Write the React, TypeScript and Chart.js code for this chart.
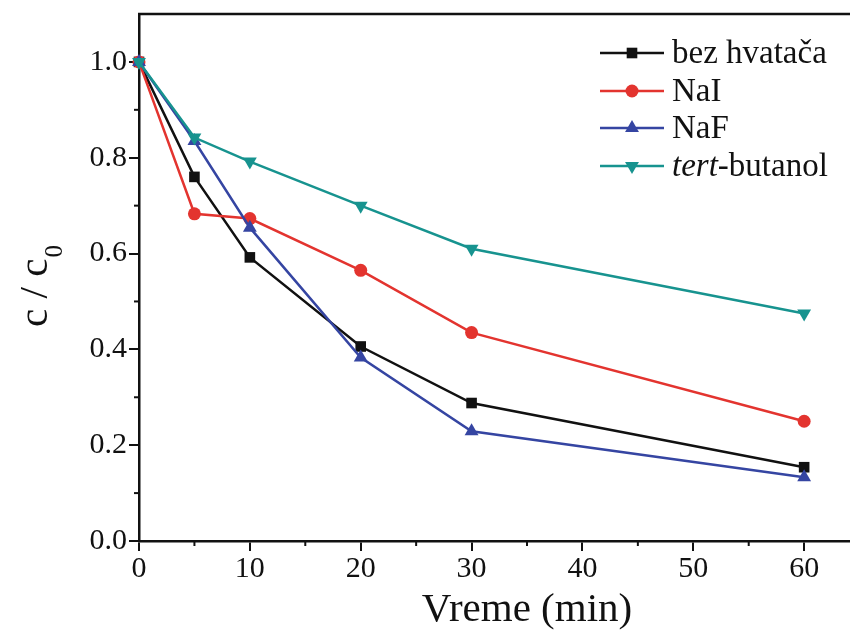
import React, { useEffect, useRef } from "react";
import { Chart, registerables } from "chart.js";

Chart.register(...registerables);

const times = [0, 5, 10, 20, 30, 60];
const seriesNames = ["bez hvatača", "NaI", "NaF", "tert-butanol"];
const bezHvataca = [1.0, 0.76, 0.592, 0.406, 0.288, 0.154];
const naI = [1.0, 0.683, 0.673, 0.565, 0.435, 0.25];
const naF = [1.0, 0.835, 0.654, 0.383, 0.229, 0.133];
const tertButanol = [1.0, 0.842, 0.792, 0.70, 0.61, 0.475];
const xTicks = [0, 10, 20, 30, 40, 50, 60];
const yTicks = [0, 0.2, 0.4, 0.6, 0.8, 1.0];

const colors = ["#111111", "#e3342f", "#3545a2", "#17938f"];
const shapes = ["rect", "circle", "triangle", "triangle"];
const rotations = [0, 0, 0, 180];
const radii = [7.5, 6.5, 8, 8];

const SERIF = "'Liberation Serif', 'Times New Roman', serif";

const extrasPlugin = {
  id: "extras",
  afterDraw(chart: any) {
    const ctx = chart.ctx;
    const area = chart.chartArea;
    const xs = chart.scales.x;
    const ys = chart.scales.y;
    ctx.save();
    // top frame line
    ctx.strokeStyle = "#111";
    ctx.lineWidth = 2.5;
    ctx.beginPath();
    ctx.moveTo(area.left - 1, area.top);
    ctx.lineTo(area.right + 5, area.top);
    ctx.stroke();
    // minor ticks
    ctx.lineWidth = 2;
    for (let v = 5; v < 70; v += 10) {
      const px = xs.getPixelForValue(v);
      ctx.beginPath();
      ctx.moveTo(px, area.bottom);
      ctx.lineTo(px, area.bottom + 5);
      ctx.stroke();
    }
    for (let i = 0; i < yTicks.length - 1; i++) {
      const v = (yTicks[i] + yTicks[i + 1]) / 2;
      const py = ys.getPixelForValue(v);
      ctx.beginPath();
      ctx.moveTo(area.left, py);
      ctx.lineTo(area.left - 5, py);
      ctx.stroke();
    }
    // y axis title with subscript
    ctx.fillStyle = "#111";
    ctx.translate(47, 286);
    ctx.rotate(-Math.PI / 2);
    ctx.textBaseline = "alphabetic";
    ctx.textAlign = "left";
    const mainFont = `41px ${SERIF}`;
    const subFont = `25px ${SERIF}`;
    ctx.font = mainFont;
    const mainText = "c / c";
    const w1 = ctx.measureText(mainText).width;
    ctx.font = subFont;
    const w2 = ctx.measureText("0").width;
    const start = -(w1 + w2 + 1) / 2;
    ctx.font = mainFont;
    ctx.fillText(mainText, start, 0);
    ctx.font = subFont;
    ctx.fillText("0", start + w1 + 1, 15);
    ctx.restore();

    // legend
    ctx.save();
    const rowY = [53, 91, 128, 166];
    for (let i = 0; i < seriesNames.length; i++) {
      const y = rowY[i];
      ctx.strokeStyle = colors[i];
      ctx.lineWidth = 2.5;
      ctx.beginPath();
      ctx.moveTo(600, y);
      ctx.lineTo(664, y);
      ctx.stroke();
      ctx.fillStyle = colors[i];
      const r = radii[i];
      if (shapes[i] === "rect") {
        const s = r * Math.SQRT1_2;
        ctx.fillRect(632 - s, y - s, 2 * s, 2 * s);
      } else if (shapes[i] === "circle") {
        ctx.beginPath();
        ctx.arc(632, y, r, 0, Math.PI * 2);
        ctx.fill();
      } else {
        const dir = rotations[i] === 180 ? -1 : 1;
        const h = r * 1.5;
        const half = r * Math.cos(Math.PI / 6);
        ctx.beginPath();
        ctx.moveTo(632, y - dir * r);
        ctx.lineTo(632 - half, y + dir * (h - r));
        ctx.lineTo(632 + half, y + dir * (h - r));
        ctx.closePath();
        ctx.fill();
      }
      ctx.fillStyle = "#111";
      ctx.textBaseline = "middle";
      ctx.textAlign = "left";
      const name = seriesNames[i];
      let x = 672;
      const ly = y + 1;
      if (name.startsWith("tert")) {
        ctx.font = `italic 33px ${SERIF}`;
        ctx.fillText("tert", x, ly);
        x += ctx.measureText("tert").width;
        ctx.font = `33px ${SERIF}`;
        ctx.fillText(name.slice(4), x, ly);
      } else {
        ctx.font = `33px ${SERIF}`;
        ctx.fillText(name, x, ly);
      }
    }
    ctx.restore();
  },
};

export default function App() {
  const ref = useRef<HTMLCanvasElement | null>(null);
  useEffect(() => {
    if (!ref.current) return;
    const all = [bezHvataca, naI, naF, tertButanol];
    const chart = new Chart(ref.current, {
      type: "line",
      data: {
        datasets: all.map((vals, i) => ({
          label: seriesNames[i],
          data: times.map((t, j) => ({ x: t, y: vals[j] })),
          borderColor: colors[i],
          backgroundColor: colors[i],
          borderWidth: 2.5,
          pointStyle: shapes[i] as any,
          pointRotation: rotations[i],
          pointRadius: radii[i],
          pointBorderWidth: 0,
          pointHoverRadius: radii[i],
          tension: 0,
          clip: false as any,
          order: 4 - i,
        })),
      },
      options: {
        animation: false,
        responsive: false,
        devicePixelRatio: 1,
        layout: { padding: { top: 13, right: 0, left: 0, bottom: 0 } },
        plugins: { legend: { display: false }, tooltip: { enabled: false } },
        scales: {
          x: {
            type: "linear",
            min: 0,
            max: 70,
            afterFit: (s: any) => {
              s.height = 97;
            },
            afterBuildTicks: (s: any) => {
              s.ticks = xTicks.map((v) => ({ value: v }));
            },
            ticks: {
              font: { family: SERIF, size: 30, lineHeight: 1 },
              color: "#111",
              padding: 3,
              maxRotation: 0,
              autoSkip: false,
            },
            grid: {
              drawOnChartArea: false,
              drawTicks: true,
              tickLength: 10,
              color: "#111",
              lineWidth: 2,
            },
            border: { display: true, color: "#111", width: 2.5 },
            title: {
              display: true,
              text: "Vreme (min)",
              color: "#111",
              font: { family: SERIF, size: 41, lineHeight: 1 },
              padding: { top: 0, bottom: 7 },
            },
          },
          y: {
            type: "linear",
            min: 0,
            max: 1.1,
            afterFit: (s: any) => {
              s.width = 139;
            },
            afterBuildTicks: (s: any) => {
              s.ticks = yTicks.map((v) => ({ value: v }));
            },
            ticks: {
              font: { family: SERIF, size: 30, lineHeight: 0.8 },
              color: "#111",
              padding: 2,
              callback: (v: any) => Number(v).toFixed(1),
            },
            grid: {
              drawOnChartArea: false,
              drawTicks: true,
              tickLength: 10,
              color: "#111",
              lineWidth: 2,
            },
            border: { display: true, color: "#111", width: 2.5 },
          },
        },
      },
      plugins: [extrasPlugin],
    });
    return () => chart.destroy();
  }, []);
  return (
    <div
      style={{
        position: "absolute",
        left: 0,
        top: 0,
        width: 850,
        height: 638,
        overflow: "hidden",
        background: "#fff",
      }}
    >
      <canvas ref={ref} width={923} height={638} style={{ display: "block" }} />
    </div>
  );
}
